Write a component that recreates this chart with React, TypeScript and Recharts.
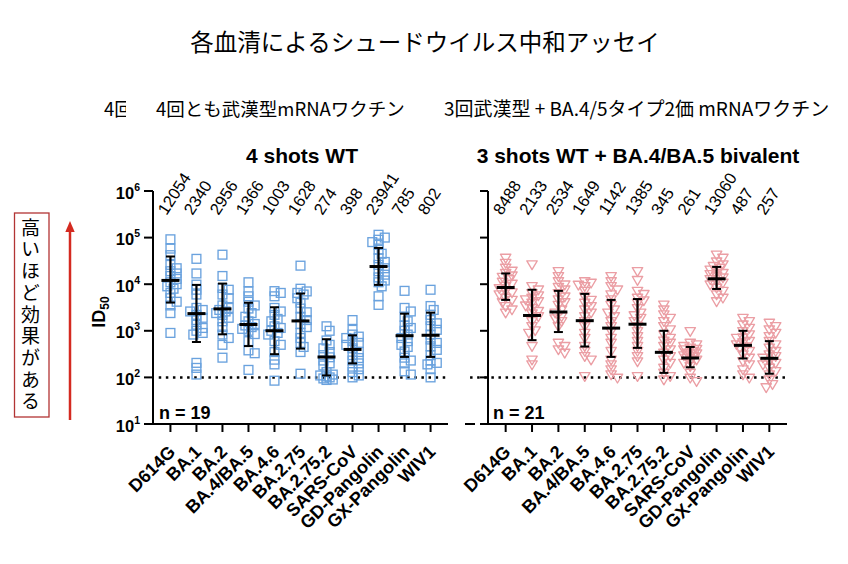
import React from 'react';
import { ScatterChart, Scatter, XAxis, YAxis, ReferenceLine } from 'recharts';

// ---------- data ----------
const variants = ['D614G', 'BA.1', 'BA.2', 'BA.4/BA.5', 'BA.4.6', 'BA.2.75', 'BA.2.75.2', 'SARS-CoV', 'GD-Pangolin', 'GX-Pangolin', 'WIV1'];
const xTicks = [0, 1, 2, 3, 4, 5, 6, 7, 8, 9, 10];
const yTicks = [10, 100, 1000, 10000, 100000, 1000000];
const cutoff = 100;

// 4 shots WT (n = 19)
const wtGmt = [12054, 2340, 2956, 1366, 1003, 1628, 274, 398, 23941, 785, 802];
const wtLow = [4040, 575, 840, 470, 315, 415, 110, 200, 9660, 275, 275];
const wtHigh = [39300, 9660, 10300, 4000, 3200, 6300, 660, 800, 60000, 2330, 2450];

const wtD614G = [92000, 58000, 42000, 26000, 22000, 19000, 17000, 15000, 13000, 11000, 10000, 9000, 8000, 6500, 5000, 4200, 3500, 2400, 900];
const wtBA1 = [35000, 17000, 9800, 7600, 6000, 3100, 2800, 2600, 2200, 1900, 1700, 1350, 1150, 1000, 900, 830, 205, 160, 115];
const wtBA2 = [43000, 15000, 8300, 7600, 6000, 5000, 3500, 3100, 2800, 2600, 2400, 2200, 1900, 1600, 1200, 830, 700, 500, 265];
const wtBA45 = [11000, 7000, 5500, 4200, 3500, 3000, 2400, 2000, 1600, 1400, 1300, 1200, 1100, 1000, 850, 600, 380, 330, 145];
const wtBA46 = [7100, 6500, 5500, 3100, 2600, 2200, 1800, 1600, 1250, 1150, 1000, 900, 830, 600, 500, 350, 240, 190, 85];
const wtBA275 = [25000, 8000, 7000, 6500, 6000, 5000, 4000, 3000, 2500, 2000, 1700, 1400, 1200, 900, 700, 550, 450, 350, 120];
const wtBA2752 = [1250, 1000, 620, 500, 420, 350, 300, 270, 230, 200, 180, 130, 115, 110, 105, 100, 95, 90, 88];
const wtSARS = [1700, 1050, 830, 750, 700, 600, 550, 500, 420, 350, 300, 260, 230, 200, 170, 150, 130, 110, 100];
const wtGD = [115000, 100000, 90000, 80000, 70000, 55000, 45000, 36000, 30000, 26000, 22000, 19000, 16000, 14000, 12000, 11000, 9000, 5500, 3600];
const wtGX = [7200, 3100, 2600, 2000, 1600, 1300, 1150, 1000, 830, 700, 600, 500, 450, 360, 265, 230, 200, 135, 115];
const wtWIV1 = [7600, 3400, 2800, 2200, 1700, 1450, 1250, 1050, 830, 650, 550, 465, 390, 300, 230, 205, 190, 150, 100];

// 3 shots WT + BA.4/BA.5 bivalent (n = 21)
const bivGmt = [8488, 2133, 2534, 1649, 1142, 1385, 345, 261, 13060, 487, 257];
const bivLow = [4600, 630, 940, 460, 275, 430, 125, 165, 7900, 255, 120];
const bivHigh = [17000, 7600, 7200, 6200, 4600, 4800, 1000, 450, 23500, 1000, 600];

const bivD614G = [36000, 28000, 22000, 19000, 17000, 15000, 14000, 12500, 11000, 10000, 9000, 8000, 7000, 6500, 5900, 5000, 4500, 4000, 3300, 2800, 2400];
const bivBA1 = [26000, 8900, 7500, 6300, 5600, 5000, 4600, 4200, 3900, 3400, 3000, 2600, 2300, 2000, 1570, 1230, 1000, 880, 460, 235, 185];
const bivBA2 = [18600, 14500, 11300, 9600, 8500, 7500, 6300, 5300, 4600, 4000, 3500, 2800, 2400, 2000, 1800, 1570, 1230, 540, 460, 390, 330];
const bivBA45 = [11300, 10500, 9500, 8900, 7000, 5300, 4500, 3900, 3300, 2800, 2400, 2000, 1570, 1230, 880, 690, 460, 360, 280, 235, 104];
const bivBA46 = [14500, 11300, 8900, 7500, 5900, 4600, 3500, 2800, 2400, 2000, 1570, 1230, 960, 690, 540, 360, 235, 185, 145, 113, 96];
const bivBA275 = [18600, 12000, 7000, 6000, 5000, 4400, 3900, 3000, 2400, 2100, 1850, 1570, 1230, 960, 750, 590, 460, 360, 280, 215, 104];
const bivBA2752 = [3550, 2800, 2200, 1850, 1570, 1230, 1050, 820, 690, 600, 540, 460, 390, 330, 280, 235, 200, 157, 123, 104, 88];
const bivSARS = [960, 540, 500, 460, 425, 400, 390, 360, 330, 320, 305, 290, 280, 258, 235, 220, 200, 170, 123, 96, 81];
const bivGD = [42000, 36000, 30000, 26000, 24000, 22000, 20000, 18600, 17000, 16000, 14800, 13600, 12500, 11300, 10500, 9600, 8200, 7000, 5900, 5000, 4200];
const bivGX = [1850, 1570, 1330, 1130, 960, 820, 700, 690, 590, 550, 500, 450, 425, 360, 305, 258, 218, 185, 145, 113, 96];
const bivWIV1 = [1450, 1230, 1050, 880, 750, 590, 500, 425, 360, 305, 280, 258, 218, 200, 185, 157, 133, 113, 88, 70, 60];

const wtGroups = [wtD614G, wtBA1, wtBA2, wtBA45, wtBA46, wtBA275, wtBA2752, wtSARS, wtGD, wtGX, wtWIV1];
const bivGroups = [bivD614G, bivBA1, bivBA2, bivBA45, bivBA46, bivBA275, bivBA2752, bivSARS, bivGD, bivGX, bivWIV1];

// ---------- helpers ----------
const W = 848;
const H = 564;
const FONT = "'Liberation Sans', Arial, Helvetica, sans-serif";
const JFONT = "'Noto Sans CJK JP', 'Noto Sans', sans-serif";
const BLUE = '#6aa2de';
const PINK = '#eb9ea4';
const X_DOMAIN: [number, number] = [-0.67, 10.67];

// simple beeswarm-like horizontal spreading (layout only)
function spread(values: number[]): number[] {
  const order = values.map((_, i) => i).sort((a, b) => values[b] - values[a]);
  const placed: { l: number; o: number }[] = [];
  const offs = new Array(values.length).fill(0);
  const cands = [0, 0.12, -0.12, 0.24, -0.24];
  for (const i of order) {
    const l = Math.log10(values[i]);
    let best = 0;
    let bestScore = -1;
    for (const c of cands) {
      let minD = Infinity;
      for (const p of placed) {
        const dx = (p.o - c) / 0.2;
        const dy = (p.l - l) / 0.1;
        const d = Math.sqrt(dx * dx + dy * dy);
        if (d < minD) minD = d;
      }
      if (minD >= 1) {
        best = c;
        bestScore = minD;
        break;
      }
      if (minD > bestScore) {
        bestScore = minD;
        best = c;
      }
    }
    placed.push({ l, o: best });
    offs[i] = best;
  }
  return offs;
}

function buildPoints(groups: number[][]) {
  const pts: { x: number; y: number }[] = [];
  groups.forEach((vals, ci) => {
    const o = spread(vals);
    vals.forEach((v, k) => pts.push({ x: ci + o[k], y: v }));
  });
  return pts;
}

function buildMeans(gmt: number[]) {
  return gmt.map((g, i) => ({ x: i, y: g }));
}

function buildBars(low: number[], high: number[]) {
  return low.map((lo, i) => [
    { x: i, y: lo },
    { x: i, y: high[i] },
  ]);
}

const wtPoints = buildPoints(wtGroups);
const bivPoints = buildPoints(bivGroups);
const wtMeans = buildMeans(wtGmt);
const bivMeans = buildMeans(bivGmt);
const wtBars = buildBars(wtLow, wtHigh);
const bivBars = buildBars(bivLow, bivHigh);

// ---------- shapes & ticks ----------
const SquareShape = (p: any) => {
  const { cx, cy } = p;
  if (cx == null || cy == null) return <g />;
  return <rect x={cx - 4.4} y={cy - 4.4} width={8.8} height={8.8} fill="none" stroke={BLUE} strokeWidth={1.35} />;
};

const TriangleShape = (p: any) => {
  const { cx, cy } = p;
  if (cx == null || cy == null) return <g />;
  return (
    <path
      d={`M${cx - 5.2},${cy - 4} L${cx + 5.2},${cy - 4} L${cx},${cy + 4.8} Z`}
      fill="none"
      stroke={PINK}
      strokeWidth={1.35}
      strokeLinejoin="round"
    />
  );
};

const MeanShape = (p: any) => {
  const { cx, cy } = p;
  if (cx == null || cy == null) return <g />;
  return <line x1={cx - 9} x2={cx + 9} y1={cy} y2={cy} stroke="#000" strokeWidth={3} />;
};

const CapShape = (p: any) => {
  const { cx, cy } = p;
  if (cx == null || cy == null) return <g />;
  return <line x1={cx - 4.5} x2={cx + 4.5} y1={cy} y2={cy} stroke="#000" strokeWidth={2} />;
};

const PowTick = (p: any) => {
  const { x, y, payload } = p;
  const exp = Math.round(Math.log10(payload.value));
  return (
    <text x={x - 2} y={y + 7.5} textAnchor="end" fontFamily={FONT} fontWeight="bold" fontSize={16.5} fill="#000">
      10
      <tspan fontSize={10.5} dy={-8}>
        {exp}
      </tspan>
    </text>
  );
};

const EmptyTick = () => <g />;

const CatTick = (p: any) => {
  const { x, y, payload } = p;
  const ax = x + 6;
  const ay = y + 19;
  return (
    <text
      x={ax}
      y={ay}
      textAnchor="end"
      transform={`rotate(-45 ${ax} ${ay})`}
      fontFamily={FONT}
      fontWeight="bold"
      fontSize={18}
      fill="#000"
    >
      {variants[payload.value]}
    </text>
  );
};

const makeGmtTick = (labels: number[]) => (p: any) => {
  const { x, y, payload } = p;
  const ax = x - 4;
  const ay = y + 25;
  return (
    <text x={ax} y={ay} textAnchor="start" transform={`rotate(-57 ${ax} ${ay})`} fontFamily={FONT} fontSize={16.5} fill="#000">
      {String(labels[payload.value])}
    </text>
  );
};

const wtGmtTick = makeGmtTick(wtGmt);
const bivGmtTick = makeGmtTick(bivGmt);

type PanelProps = {
  left: number;
  width: number;
  marginLeft: number;
  marginRight: number;
  points: { x: number; y: number }[];
  means: { x: number; y: number }[];
  bars: { x: number; y: number }[][];
  gmtTick: any;
  shape: any;
  yTick: any;
  yTickSize: number;
  refStart: number;
};

function Panel(props: PanelProps) {
  const { left, width, marginLeft, marginRight, points, means, bars, gmtTick, shape, yTick, yTickSize, refStart } = props;
  return (
    <div style={{ position: 'absolute', left, top: 0 }}>
      <ScatterChart width={width} height={H} margin={{ top: 161, right: marginRight, bottom: 20, left: marginLeft }}>
        <XAxis
          xAxisId="b"
          type="number"
          dataKey="x"
          orientation="bottom"
          domain={X_DOMAIN}
          ticks={xTicks}
          interval={0}
          allowDataOverflow
          height={120}
          tickSize={8}
          axisLine={{ stroke: '#000', strokeWidth: 2 }}
          tickLine={{ stroke: '#000', strokeWidth: 2 }}
          tick={CatTick}
        />
        <XAxis
          xAxisId="t"
          type="number"
          dataKey="x"
          orientation="top"
          domain={X_DOMAIN}
          ticks={xTicks}
          interval={0}
          allowDataOverflow
          height={30}
          tickSize={0}
          tickMargin={0}
          axisLine={false}
          tickLine={false}
          tick={gmtTick}
        />
        <YAxis
          yAxisId="y"
          type="number"
          dataKey="y"
          scale="log"
          domain={[10, 1000000]}
          ticks={yTicks}
          interval={0}
          allowDataOverflow
          width={80}
          tickSize={yTickSize}
          axisLine={{ stroke: '#000', strokeWidth: 2 }}
          tickLine={{ stroke: '#000', strokeWidth: 2 }}
          tick={yTick}
        />
        <ReferenceLine
          xAxisId="b"
          yAxisId="y"
          segment={[
            { x: refStart, y: cutoff },
            { x: 10.6, y: cutoff },
          ]}
          ifOverflow="visible"
          stroke="#000"
          strokeWidth={2.5}
          strokeDasharray="2.5 4.6"
        />
        <Scatter xAxisId="b" yAxisId="y" data={points} shape={shape} isAnimationActive={false} />
        {bars.map((b, i) => (
          <Scatter
            key={`bar${i}`}
            xAxisId="b"
            yAxisId="y"
            data={b}
            line={{ stroke: '#000', strokeWidth: 2.2 }}
            lineType="joint"
            shape={CapShape}
            isAnimationActive={false}
          />
        ))}
        <Scatter xAxisId="b" yAxisId="y" data={means} shape={MeanShape} isAnimationActive={false} />
      </ScatterChart>
    </div>
  );
}

export default function App() {
  return (
    <div style={{ position: 'absolute', left: 0, top: 0, width: W, height: H, background: '#fff', overflow: 'hidden' }}>
      <Panel
        left={0}
        width={470}
        marginLeft={73}
        marginRight={22}
        points={wtPoints}
        means={wtMeans}
        bars={wtBars}
        gmtTick={wtGmtTick}
        shape={SquareShape}
        yTick={PowTick}
        yTickSize={9}
        refStart={-0.45}
      />
      <Panel
        left={400}
        width={400}
        marginLeft={8}
        marginRight={13}
        points={bivPoints}
        means={bivMeans}
        bars={bivBars}
        gmtTick={bivGmtTick}
        shape={TriangleShape}
        yTick={EmptyTick}
        yTickSize={8}
        refStart={-1.35}
      />
      <svg width={W} height={H} style={{ position: 'absolute', left: 0, top: 0, pointerEvents: 'none' }}>
        <defs>
          <clipPath id="cut4">
            <rect x={100} y={95} width={26} height={30} />
          </clipPath>
        </defs>
        <text x={425} y={51} textAnchor="middle" fontFamily={JFONT} fontSize={23.5} fill="#000">
          各血清によるシュードウイルス中和アッセイ
        </text>
        <text x={104} y={116} fontFamily={JFONT} fontSize={18.5} fill="#000" clipPath="url(#cut4)">
          4回
        </text>
        <text x={156} y={116} fontFamily={JFONT} fontSize={18.5} fill="#000">
          4回とも武漢型mRNAワクチン
        </text>
        <text x={444} y={116} fontFamily={JFONT} fontSize={19} fill="#000">
          3回武漢型 + BA.4/5タイプ2価 mRNAワクチン
        </text>
        <text x={302} y={163} textAnchor="middle" fontFamily={FONT} fontWeight="bold" fontSize={21} fill="#000">
          4 shots WT
        </text>
        <text x={638} y={163} textAnchor="middle" fontFamily={FONT} fontWeight="bold" fontSize={21} fill="#000">
          3 shots WT + BA.4/BA.5 bivalent
        </text>
        <text x={159} y={419} fontFamily={FONT} fontWeight="bold" fontSize={18} fill="#000">
          n = 19
        </text>
        <text x={493} y={419} fontFamily={FONT} fontWeight="bold" fontSize={18} fill="#000">
          n = 21
        </text>
        <text
          x={105}
          y={312}
          textAnchor="middle"
          transform="rotate(-90 105 312)"
          fontFamily={FONT}
          fontWeight="bold"
          fontSize={18}
          fill="#000"
        >
          ID
          <tspan fontSize={12} dy={4}>
            50
          </tspan>
        </text>
        <line x1={465} y1={424} x2={475} y2={424} stroke="#000" strokeWidth={2} />
        <line x1={480} y1={424} x2={489} y2={424} stroke="#000" strokeWidth={2} />
        <rect x={14.5} y={213} width={34.5} height={204} fill="none" stroke="#b23434" strokeWidth={1.3} />
        <line x1={70} y1={420} x2={70} y2={230} stroke="#d42a20" strokeWidth={2.5} />
        <polygon points="70,221 65.3,232 74.7,232" fill="#d42a20" />
      </svg>
      <div
        style={{
          position: 'absolute',
          left: 21,
          top: 218,
          writingMode: 'vertical-rl',
          fontFamily: JFONT,
          fontSize: 19,
          letterSpacing: '2.7px',
          lineHeight: 1,
          color: '#000',
        }}
      >
        高いほど効果がある
      </div>
    </div>
  );
}
